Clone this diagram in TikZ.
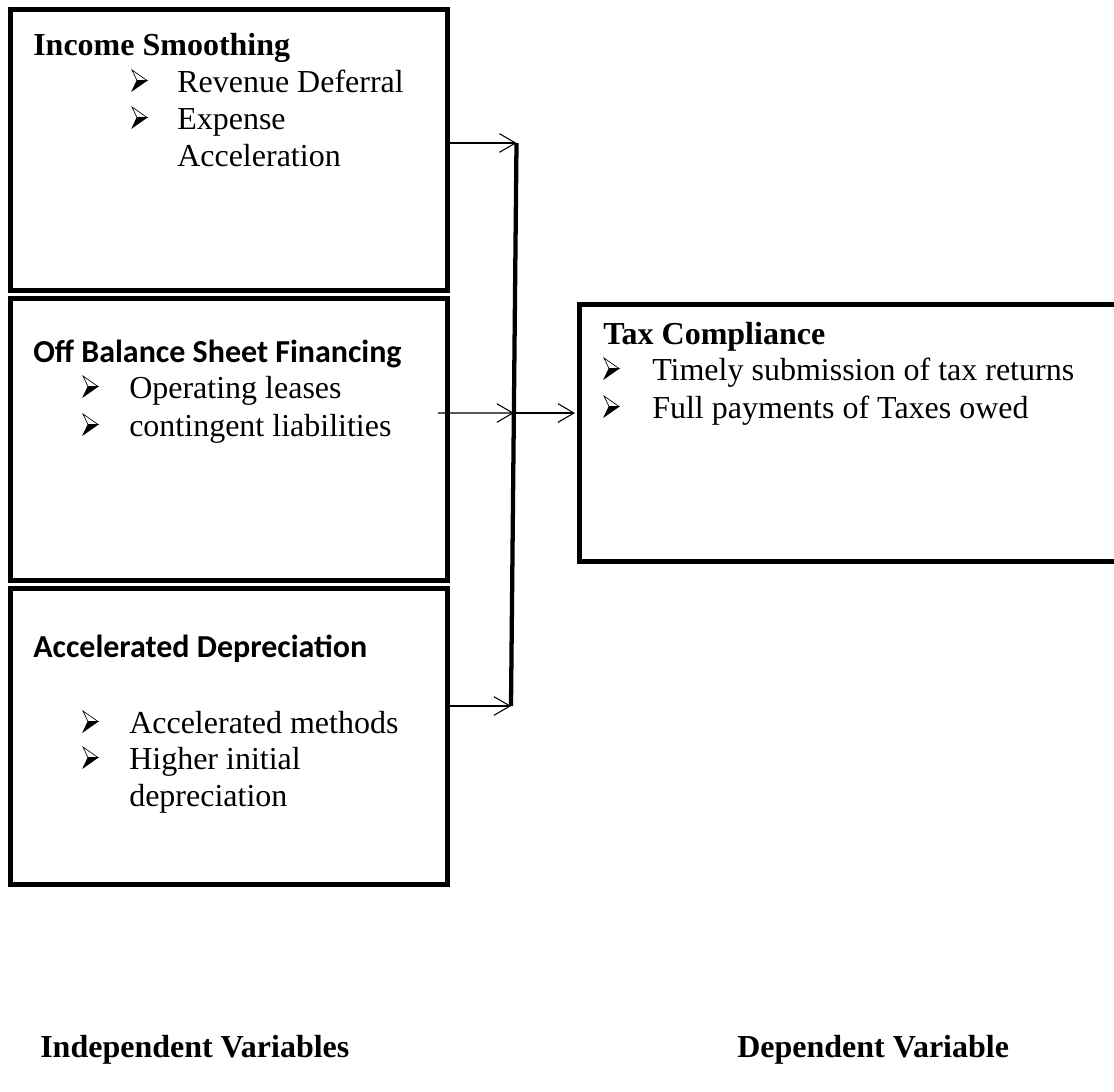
\documentclass[tikz,border=0pt]{standalone}
\usepackage{fontspec}
\setmainfont{Liberation Serif}
\newfontfamily\calibfont{Carlito}
\usetikzlibrary{arrows.meta,fit,calc}
\begin{document}
\begin{tikzpicture}[x=0.75pt,y=-0.75pt,
  txt/.style={anchor=base west, inner sep=0pt, font=\fontsize{24}{28}\selectfont},
  ttl/.style={anchor=base west, inner sep=0pt, font=\fontsize{24}{28}\selectfont\bfseries},
  cttl/.style={anchor=base west, inner sep=0pt, font=\fontsize{24}{28}\selectfont\calibfont\bfseries},
  box/.style={draw, line width=3.75pt, inner sep=0pt},
  link/.style={line width=3.2pt},
  arr/.style={line width=0.8pt, -{Straight Barb[length=12pt,width=14pt,line width=0.8pt]}},
  bulletmark/.pic={
    \filldraw[fill=white, draw=black, line width=0.5pt, line join=miter] (0,-22) -- (15,-11.5) -- (5,-11.5) -- cycle;
    \filldraw[fill=black, draw=black, line width=0.5pt, line join=miter] (0,-1) -- (15,-11.5) -- (5,-11.5) -- cycle;
  }
]
\clip (0,0) rectangle (1114,1092);
\fill[white] (0,0) rectangle (1114,1092);

% boxes
\node[box, fit={(10.5,9.5) (447.5,290.5)}] (b1) {};
\node[box, fit={(10.5,298.5) (447.5,580)}] (b2) {};
\node[box, fit={(10.5,588.5) (447.5,884.5)}] (b3) {};
\node[box, fit={(579.5,304.5) (1125,561.5)}] (tax) {};

% box 1
\node[ttl] (t1) at (33,55) {Income Smoothing};
\pic at (132,92) {bulletmark};
\pic at (132,129) {bulletmark};
\node[txt] (t1a) at (177,92) {Revenue Deferral};
\node[txt] (t1b) at (177,129) {Expense};
\node[txt] (t1c) at (177,166) {Acceleration};

% box 2
\node[cttl] (t2) at (33,362) {Off Balance Sheet Financing};
\pic at (83,398) {bulletmark};
\pic at (83,436) {bulletmark};
\node[txt] (t2a) at (129,398) {Operating leases};
\node[txt] (t2b) at (129,436) {contingent liabilities};

% box 3
\node[cttl] (t3) at (33,657) {Accelerated Depreciation};
\pic at (83,733) {bulletmark};
\pic at (83,769) {bulletmark};
\node[txt] (t3a) at (129,733) {Accelerated methods};
\node[txt] (t3b) at (129,769) {Higher initial};
\node[txt] (t3c) at (129,806) {depreciation};

% tax box
\node[ttl] (t4) at (603,344) {Tax Compliance};
\pic at (604,380) {bulletmark};
\pic at (604,418) {bulletmark};
\node[txt] (t4a) at (652,380) {Timely submission of tax returns};
\node[txt] (t4b) at (652,418) {Full payments of Taxes owed};

% labels
\node[ttl] (lind) at (40,1057) {Independent Variables};
\node[ttl] (ldep) at (737,1057) {Dependent Variable};

% connectors
\coordinate (vt) at (516.5,143);
\coordinate (vb) at (511,706);
\coordinate (vm) at ($(vt)!0.4796!(vb)$);
\coordinate (s2) at (438,413);
\draw[link] (vt) -- (vb);
\draw[arr] (b1.east |- vt) -- (vt);
\draw[arr] (s2) -- (vm);
\draw[arr, shorten >=1.5pt] (vm) -- (tax.west |- vm);
\draw[arr] (b3.east |- vb) -- (vb);
\end{tikzpicture}
\end{document}
